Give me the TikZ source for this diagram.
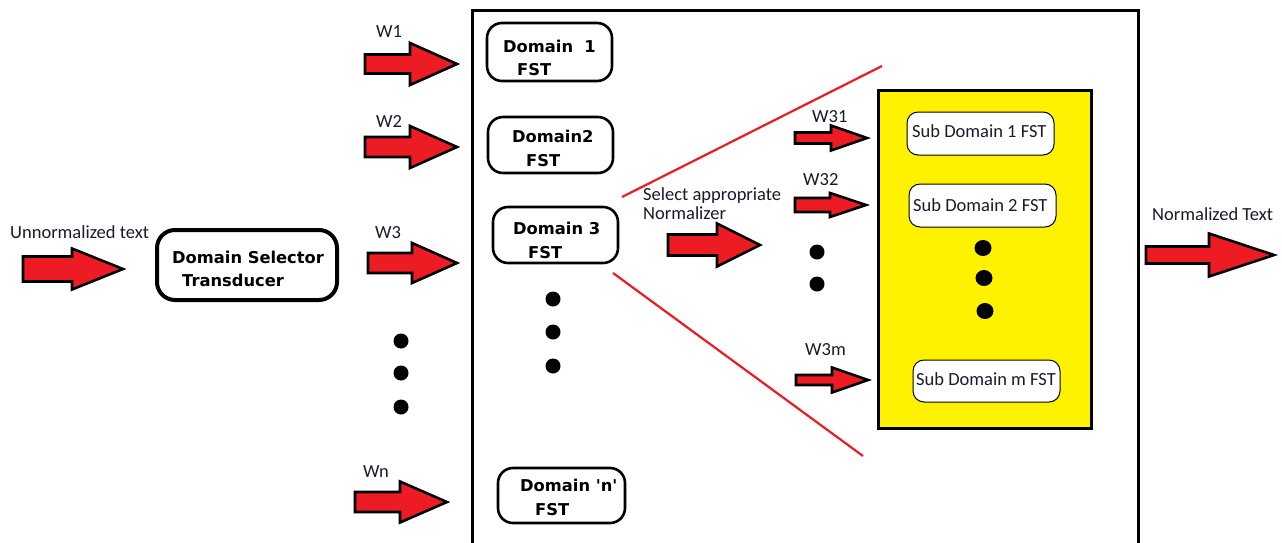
\documentclass[tikz,border=0pt]{standalone}
\usepackage{fontspec}
\usetikzlibrary{shapes.geometric}
\setmainfont{Carlito}
\newfontfamily\boldfam{DejaVu Sans}
\definecolor{arrred}{HTML}{ED1C24}
\definecolor{paintyellow}{HTML}{FFF200}
\definecolor{txt}{HTML}{1A1A2E}
\newcommand\BArrow[7]{% name, left, headbase, tip, cy, shaft half, head half
  \filldraw[redarrow] (#2,#5-#6) -- (#3,#5-#6) -- (#3,#5-#7) -- (#4,#5)
    -- (#3,#5+#7) -- (#3,#5+#6) -- (#2,#5+#6) -- cycle;
  \coordinate (#1) at (#4,#5);}
\begin{document}
\begin{tikzpicture}[x=1pt,y=-1pt,
  redarrow/.style={fill=arrred, draw=black, line width=2.6pt, line join=miter},
  dombox/.style={draw=black, line width=2.6pt, rounded corners=15pt, inner sep=0pt},
  subbox/.style={draw=black, line width=1pt, fill=white, rounded corners=11pt, inner sep=0pt},
  lbl/.style={font=\fontsize{18.5}{21}\selectfont, text=txt, inner sep=0pt, anchor=base west},
  blbl/.style={font=\boldfam\bfseries\fontsize{16.3}{19}\selectfont, text=black, inner sep=0pt, anchor=base west},
  dotn/.style={circle, fill=black, inner sep=0pt, minimum size=15pt},
  bigdot/.style={ellipse, fill=black, inner sep=0pt, minimum width=17pt, minimum height=16pt},
  redline/.style={draw=arrred, line width=2.2pt},
]
\useasboundingbox (0,0) rectangle (1282,542);
\fill[white] (0,0) rectangle (1282,542);

% big frame
\draw[line width=3pt] (472,545) -- (472,10) -- (1138,10) -- (1138,545);

% yellow box
\node[draw=black, line width=3pt, fill=paintyellow, minimum width=213pt, minimum height=338pt, inner sep=0pt] (ybox) at (985,259) {};

% red lines
\coordinate (rl1a) at (622,197);
\coordinate (rl1b) at (882,66);
\coordinate (rl2a) at (613,273);
\coordinate (rl2b) at (863,456);
\draw[redline] (rl1a) -- (rl1b);
\draw[redline] (rl2a) -- (rl2b);

% input
\BArrow{ain}{23}{72}{123}{269}{12.5}{20.5}
\node[lbl] (tin) at (10,238) {Unnormalized text};
\node[dombox, line width=4pt, rounded corners=18pt, minimum width=180pt, minimum height=70pt] (dst) at (247,265) {};
\node[blbl] (dsta) at (172,263) {Domain Selector};
\node[blbl] (dstb) at (182,286) {Transducer};

% W arrows
\BArrow{aw1}{365}{410}{457}{64}{9.5}{21}
\node[lbl] (tw1) at (376,37) {W1};
\BArrow{aw2}{365}{410}{457}{147}{10}{21}
\node[lbl] (tw2) at (376,127) {W2};
\BArrow{aw3}{368}{412}{457}{263}{10}{20}
\node[lbl] (tw3) at (375,238) {W3};
\BArrow{awn}{355}{400}{447}{502}{10}{20.5}
\node[lbl] (twn) at (363,477) {Wn};

\node[dotn] (ld1) at (401,341) {};
\node[dotn] (ld2) at (401,373) {};
\node[dotn] (ld3) at (401,407) {};

% domain boxes
\node[dombox, minimum width=125pt, minimum height=58pt] (d1) at (549.5,52) {};
\node[blbl] (d1a) at (503,52) {Domain\ \ 1};
\node[blbl] (d1b) at (517,75) {FST};
\node[dombox, minimum width=125pt, minimum height=56pt] (d2) at (550.5,145) {};
\node[blbl] (d2a) at (512,142) {Domain2};
\node[blbl] (d2b) at (526,166) {FST};
\node[dombox, minimum width=125pt, minimum height=56pt] (d3) at (555.5,235) {};
\node[blbl] (d3a) at (513,234) {Domain 3};
\node[blbl] (d3b) at (528,258) {FST};
\node[dombox, minimum width=127pt, minimum height=55pt] (dn) at (561.5,495.5) {};
\node[blbl] (dna) at (520,491) {Domain 'n'};
\node[blbl] (dnb) at (535,515) {FST};

\node[dotn] (md1) at (553,299) {};
\node[dotn] (md2) at (553,332) {};
\node[dotn] (md3) at (553,366) {};

% select normalizer
\node[lbl] (sel1) at (643,200) {Select appropriate};
\node[lbl] (sel2) at (643,219) {Normalizer};
\BArrow{asel}{668}{717}{760}{245}{10.5}{21.5}

% W3x arrows
\BArrow{a31}{795}{831}{867}{138}{5.5}{12.5}
\node[lbl] (t31) at (812,122) {W31};
\BArrow{a32}{795}{830}{866}{205}{7}{12}
\node[lbl] (t32) at (803,185) {W32};
\BArrow{a3m}{796}{832}{868}{380}{5}{12.5}
\node[lbl] (t3m) at (805,355) {W3m};
\node[dotn] (wd1) at (817,252) {};
\node[dotn] (wd2) at (817,284) {};

% sub domain boxes
\node[subbox, minimum width=147pt, minimum height=43pt] (s1) at (980.5,133.5) {};
\node[lbl] (s1t) at (912,137) {Sub Domain 1 FST};
\node[subbox, minimum width=147pt, minimum height=43pt] (s2) at (982.5,205.5) {};
\node[lbl] (s2t) at (913,211) {Sub Domain 2 FST};
\node[subbox, minimum width=147pt, minimum height=42pt] (sm) at (986.5,381) {};
\node[lbl] (smt) at (916,385) {Sub Domain m FST};
\node[bigdot] (yd1) at (983,248) {};
\node[bigdot] (yd2) at (984,278) {};
\node[bigdot] (yd3) at (985,311) {};

% output
\node[lbl] (tout) at (1152,220) {Normalized Text};
\BArrow{aout}{1146}{1209}{1274}{255}{8.5}{21.5}
\end{tikzpicture}
\end{document}
